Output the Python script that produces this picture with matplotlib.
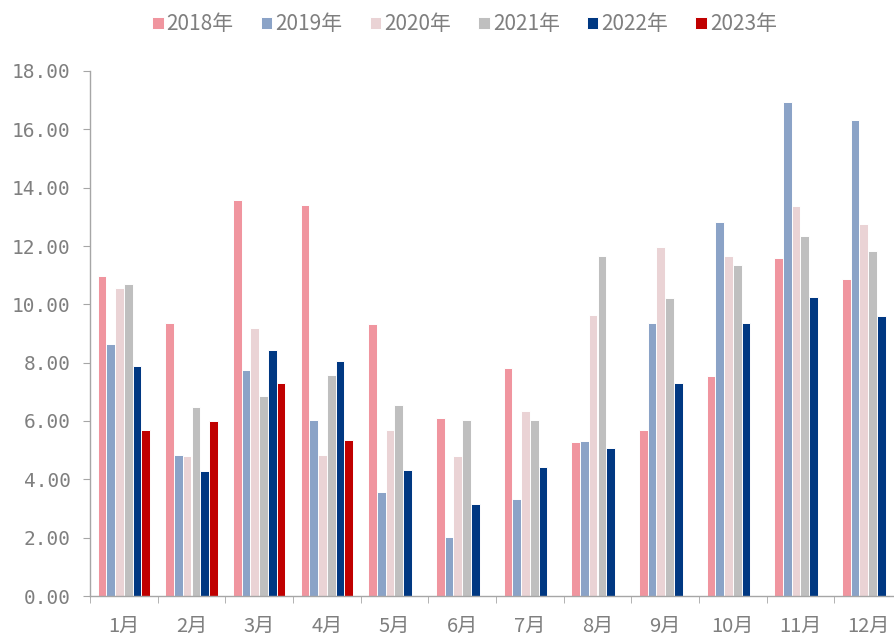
import matplotlib
matplotlib.use("Agg")
import matplotlib.pyplot as plt
import numpy as np

months = ["1月", "2月", "3月", "4月", "5月", "6月", "7月", "8月", "9月", "10月", "11月", "12月"]
years = ["2018年", "2019年", "2020年", "2021年", "2022年", "2023年"]
v2018 = [10.98, 9.37, 13.59, 13.42, 9.31, 6.11, 7.81, 5.28, 5.69, 7.54, 11.58, 10.87]
v2019 = [8.63, 4.85, 7.74, 6.03, 3.57, 2.03, 3.33, 5.33, 9.37, 12.82, 16.94, 16.32]
v2020 = [10.56, 4.80, 9.19, 4.85, 5.68, 4.80, 6.36, 9.65, 11.97, 11.67, 13.38, 12.77]
v2021 = [10.69, 6.47, 6.86, 7.57, 6.55, 6.03, 6.05, 11.67, 10.22, 11.36, 12.33, 11.84]
v2022 = [7.87, 4.27, 8.45, 8.05, 4.31, 3.14, 4.43, 5.09, 7.30, 9.37, 10.26, 9.60]
v2023 = [5.68, 5.99, 7.30, 5.34]
series = [v2018, v2019, v2020, v2021, v2022, v2023]
colors = ["#F0959F", "#8BA3C7", "#EAD3D5", "#BFBFBF", "#003882", "#C00000"]
yticks = [0, 2, 4, 6, 8, 10, 12, 14, 16, 18]

gray = "#7F7F7F"
cjk = ["Noto Sans CJK SC", "DejaVu Sans"]

fig = plt.figure(figsize=(8.95, 6.36), dpi=100)
ax = fig.add_axes([90 / 895, 40 / 636, 812 / 895, 525 / 636])

x = np.arange(len(months))
w = 0.1296
for i, (vals, c, lab) in enumerate(zip(series, colors, years)):
    xs = x[:len(vals)] + (i - 2.5) * w
    ax.bar(xs, vals, width=w, color=c, edgecolor="white", linewidth=0.7, label=lab)

ax.set_xlim(-0.5, len(months) - 0.5)
ax.set_ylim(0, 18)
ax.set_yticks(yticks)
ax.set_yticklabels([f"{t:.2f}" for t in yticks], family=["DejaVu Sans Mono"], fontsize=14, color=gray)
ax.set_xticks(x)
ax.set_xticklabels(months, family=cjk, fontsize=14.5, color=gray)
ax.set_xticks(np.arange(len(months) + 1) - 0.5, minor=True)
ax.tick_params(axis="x", which="major", length=0, pad=14)
ax.tick_params(axis="x", which="minor", length=5, color="#A6A6A6", direction="out")
ax.tick_params(axis="y", length=5, color="#A6A6A6", direction="out", pad=9)
for s in ["top", "right"]:
    ax.spines[s].set_visible(False)
for s in ["left", "bottom"]:
    ax.spines[s].set_color("#A6A6A6")
    ax.spines[s].set_linewidth(1.0)

leg = fig.legend(loc="center", bbox_to_anchor=(0.519, 0.962), ncol=6, frameon=False,
                 prop={"family": cjk, "size": 15}, handlelength=0.55, handleheight=0.55,
                 handletextpad=0.15, columnspacing=1.3)
for t in leg.get_texts():
    t.set_color(gray)

fig.savefig("out.png", dpi=100)
